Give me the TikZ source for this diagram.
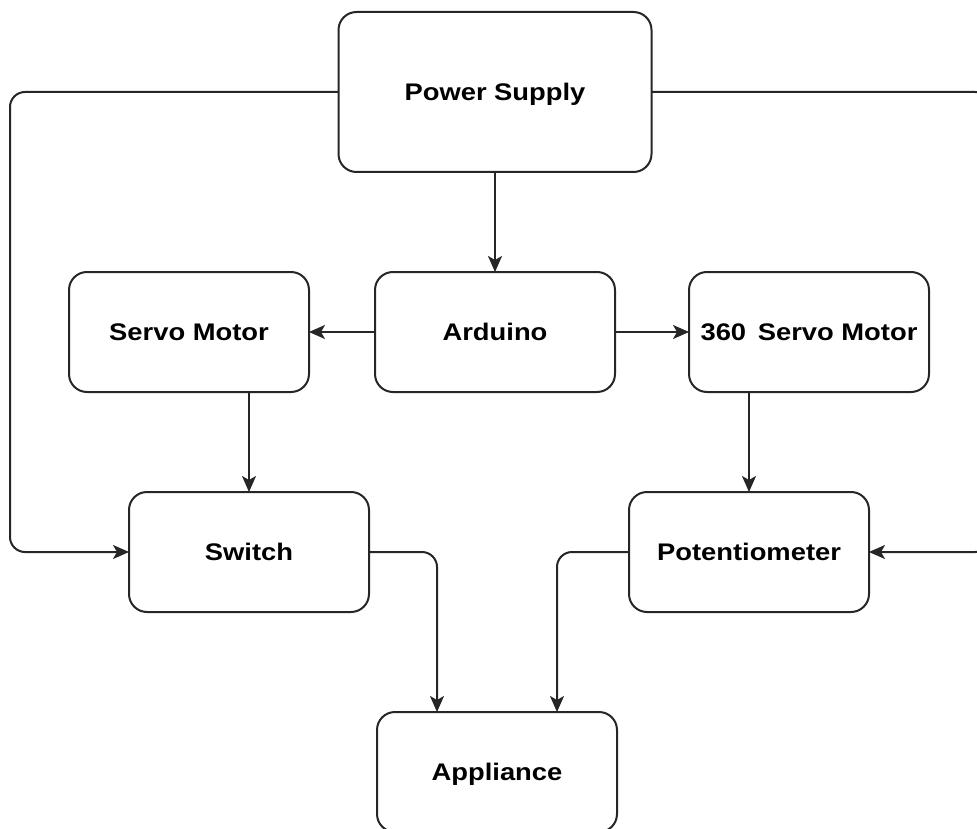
\documentclass[tikz,border=0pt]{standalone}
\usepackage{fontspec}
\setmainfont{Liberation Sans}[FakeStretch=1.14]
\usetikzlibrary{positioning,arrows.meta}

\begin{document}
\begin{tikzpicture}
                [x=1pt,y=-1pt,
                box/.style={draw=black!85,line width=2pt,rounded corners=18pt,outer sep=0pt,
                    minimum width=240pt,minimum height=120pt,text height=21.6pt,text depth=5pt,
                    font=\fontsize{24}{28}\selectfont\bfseries},
                conn/.style={draw=black!85,line width=2pt,rounded corners=15pt,
                    -{Stealth[length=16pt,width=14pt,inset=4pt]}}]
                \useasboundingbox (0,0) rectangle (977,829);
                \node[box] (arduino) at (495,332) {Arduino};
                \node[box,minimum width=313pt,minimum height=160pt] (ps)[above=100pt of arduino]{Power Supply};
                \node[box] (servo)[left=66pt of arduino]{Servo Motor};
                \node[box] (three60)[right=74pt of arduino]{360\hspace{4pt} Servo Motor};
                \node[box,xshift=60pt] (sw)[below=100pt of servo]{Switch};
                \node[box,xshift=-60pt] (pot)[below=100pt of three60]{Potentiometer};
                \node[box] (app) at (497,772) {Appliance};
                % outer feed lines
                \coordinate (lx) at (10,0);
                \coordinate (rx) at (990,0);
                \path[conn] (ps.west) -| (lx |- sw.west) -- (sw.west);
                \path[conn] (ps.east) -| (rx |- pot.east) -- (pot.east);
                \path[conn] (ps.south) -- (arduino.north);
                \path[conn] (arduino.west) -- (servo.east);
                \path[conn] (arduino.east) -- (three60.west);
                \path[conn] (sw.north |- servo.south) -- (sw.north);
                \path[conn] (pot.north |- three60.south) -- (pot.north);
                \path[conn] (sw.east) -| ([xshift=-60pt]app.north);
                \path[conn] (pot.west) -| ([xshift=60pt]app.north);
            \end{tikzpicture}
\end{document}
